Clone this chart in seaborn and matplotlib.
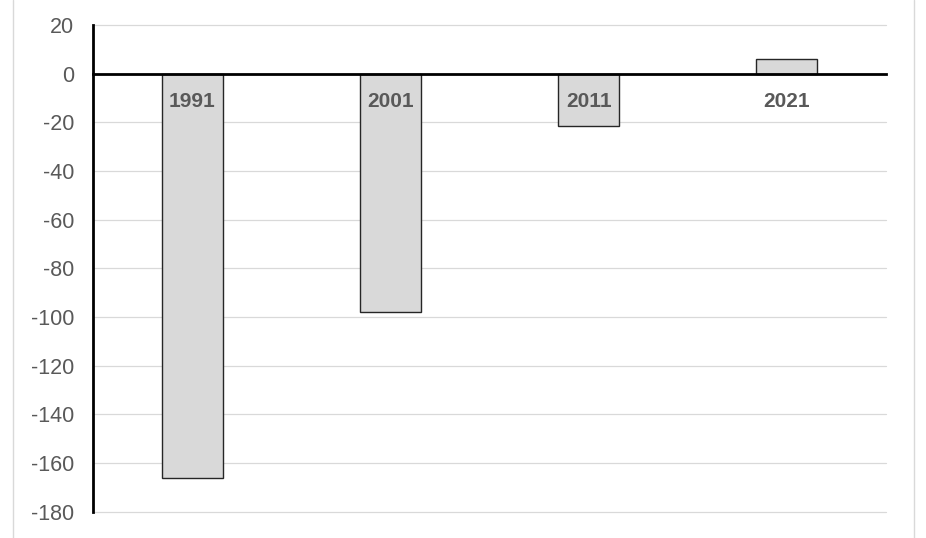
import matplotlib
matplotlib.use("Agg")
import matplotlib.pyplot as plt
import seaborn as sns
import pandas as pd
from matplotlib.lines import Line2D

years = ["1991", "2001", "2011", "2021"]
values = [-166, -98, -21.5, 6]
y_ticks = [20, 0, -20, -40, -60, -80, -100, -120, -140, -160, -180]

sns.set_theme(style="white")
plt.rcParams["font.family"] = ["Liberation Sans", "DejaVu Sans"]

df = pd.DataFrame({"year": years, "value": values})

fig = plt.figure(figsize=(9.26, 5.38), dpi=100)
ax = fig.add_axes([0.1008, 0.0489, 0.9565 - 0.1008, 0.9535 - 0.0489])

sns.barplot(data=df, x="year", y="value", order=years, width=0.31,
            color="#d9d9d9", edgecolor="#262626", linewidth=1.0,
            saturation=1, ax=ax, zorder=3)

ax.set_ylim(-180, 20)
ax.set_yticks(y_ticks)
ax.set_yticklabels([str(v) for v in y_ticks])
ax.set_xlim(-0.5, len(years) - 0.5)
ax.set_xlabel("")
ax.set_ylabel("")

ax.yaxis.grid(True, color="#d9d9d9", linewidth=0.9, zorder=0)
for gl in ax.get_ygridlines():
    gl.set_clip_on(False)
ax.xaxis.grid(False)
ax.set_axisbelow(True)

for s in ["top", "right"]:
    ax.spines[s].set_visible(False)
ax.spines["bottom"].set_position(("data", 0))
ax.spines["bottom"].set_color("black")
ax.spines["bottom"].set_linewidth(2.0)
ax.spines["bottom"].set_zorder(5)
ax.spines["left"].set_color("black")
ax.spines["left"].set_linewidth(2.0)
ax.spines["left"].set_zorder(5)

ax.tick_params(axis="y", length=0, pad=14, labelsize=15.5, labelcolor="#595959")
ax.tick_params(axis="x", length=0, pad=13, labelsize=15, labelcolor="#595959")
for lbl in ax.get_xticklabels():
    lbl.set_fontweight("bold")
ax.xaxis.set_zorder(10)

# chart border lines
fig.add_artist(Line2D([12.7 / 926, 12.7 / 926], [0, 1], transform=fig.transFigure,
                      color="#d9d9d9", linewidth=1.0))
fig.add_artist(Line2D([914.3 / 926, 914.3 / 926], [0, 1], transform=fig.transFigure,
                      color="#d9d9d9", linewidth=1.0))

fig.savefig("out.png", dpi=100)
